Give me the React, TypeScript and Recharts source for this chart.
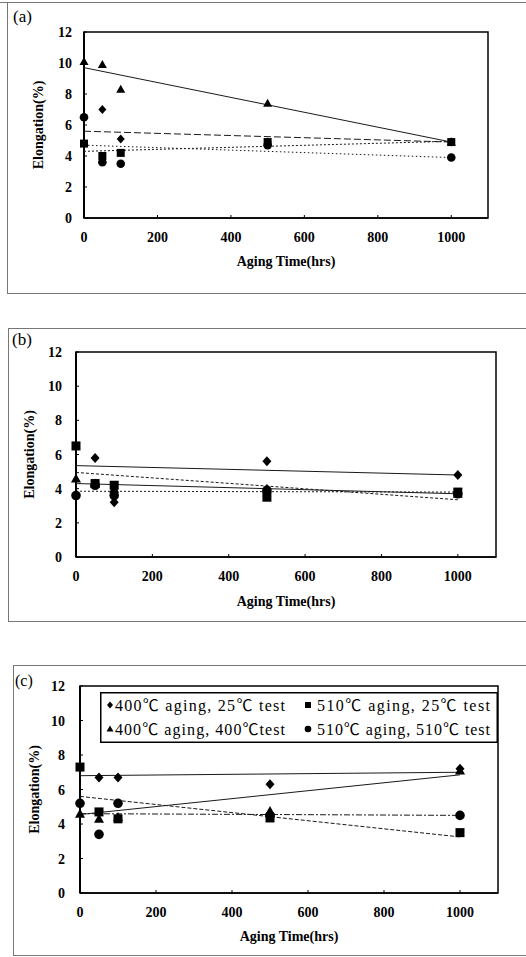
import React from 'react';
import { ScatterChart, Scatter, XAxis, YAxis, ReferenceArea, Legend, Label } from 'recharts';

const times = [0, 50, 100, 500, 1000];
const trendEnds = [0, 1000];
const xTicks = [0, 200, 400, 600, 800, 1000];
const yTicks = [0, 2, 4, 6, 8, 10, 12];

const seriesNames = ['400℃ aging, 25℃ test', '510℃ aging,  25℃ test', '400℃ aging, 400℃test', '510℃ aging, 510℃ test'];
const panelLabels = ['(a)', '(b)', '(c)'];
const xTitle = 'Aging Time(hrs)';
const yTitle = 'Elongation(%)';

// Panel (a)
const diamondA = [null, 7.0, 5.1, 4.9, 4.9];
const squareA = [4.8, 4.0, 4.2, 4.9, 4.9];
const triangleA = [10.1, 9.9, 8.3, 7.4, 4.9];
const circleA = [6.5, 3.6, 3.5, 4.7, 3.9];
const trendDiamondA = [5.6, 4.9];
const trendSquareA = [4.3, 4.95];
const trendTriangleA = [9.7, 4.9];
const trendCircleA = [4.7, 3.9];

// Panel (b)
const diamondB = [null, 5.8, 3.2, 5.6, 4.8];
const squareB = [6.5, 4.3, 4.2, 3.5, 3.8];
const triangleB = [4.6, 4.3, 4.0, 4.0, 3.7];
const circleB = [3.6, 4.2, 3.6, 3.9, 3.7];
const trendDiamondB = [5.35, 4.8];
const trendSquareB = [4.95, 3.35];
const trendTriangleB = [4.3, 3.7];
const trendCircleB = [3.85, 3.8];

// Panel (c)
const diamondC = [null, 6.7, 6.7, 6.3, 7.2];
const squareC = [7.3, 4.7, 4.3, 4.35, 3.5];
const triangleC = [4.6, 4.3, 4.4, 4.75, 7.1];
const circleC = [5.2, 3.4, 5.2, 4.5, 4.5];
const trendDiamondC = [6.8, 7.0];
const trendSquareC = [5.6, 3.25];
const trendTriangleC = [4.55, 6.85];
const trendCircleC = [4.6, 4.5];

const SERIF = "'Liberation Serif', 'Noto Sans CJK SC', serif";

type Pt = { x: number; y: number };
const pts = (vals: (number | null)[]): Pt[] =>
  times.map((t, i) => ({ x: t, y: vals[i] as number })).filter((p) => p.y !== null && p.y !== undefined);
const trendPts = (vals: number[]): Pt[] => trendEnds.map((t, i) => ({ x: t, y: vals[i] }));

const mark = (kind: string, s: number) => (props: any) => {
  const { cx, cy } = props;
  if (cx == null || cy == null) return <g />;
  const h = s / 2;
  if (kind === 'diamond') {
    return <path d={`M${cx},${cy - h - 0.5} L${cx + h},${cy} L${cx},${cy + h + 0.5} L${cx - h},${cy} Z`} fill="#000" />;
  }
  if (kind === 'square') {
    return <rect x={cx - h} y={cy - h} width={s} height={s} fill="#000" />;
  }
  if (kind === 'triangle') {
    return <path d={`M${cx},${cy - h - 0.5} L${cx + h + 0.5},${cy + h - 0.5} L${cx - h - 0.5},${cy + h - 0.5} Z`} fill="#000" />;
  }
  return <circle cx={cx} cy={cy} r={h + 0.3} fill="#000" />;
};

const noMark = () => <g />;

const makeXTick = (m: number) => (props: any) => {
  const { x, y, payload } = props;
  return (
    <g>
      <line x1={x} x2={x} y1={y - m} y2={y - m - 3} stroke="#000" strokeWidth={1} />
      <text x={x} y={y} dy="0.71em" textAnchor="middle" fontFamily={SERIF} fontWeight="bold" fontSize={14} fill="#000">
        {payload.value}
      </text>
    </g>
  );
};

const makeYTick = (m: number) => (props: any) => {
  const { x, y, payload } = props;
  return (
    <g>
      <line x1={x + m} x2={x + m + 3} y1={y} y2={y} stroke="#000" strokeWidth={1} />
      <text x={x} y={y} dy="0.36em" textAnchor="end" fontFamily={SERIF} fontWeight="bold" fontSize={14} fill="#000">
        {payload.value}
      </text>
    </g>
  );
};

const legendItems = [
  { kind: 'diamond', name: seriesNames[0], mx: 10, tx: 15, tw: 170, row: 0 },
  { kind: 'square', name: seriesNames[1], mx: 208, tx: 217, tw: 173, row: 0 },
  { kind: 'triangle', name: seriesNames[2], mx: 10, tx: 15, tw: 170, row: 1 },
  { kind: 'circle', name: seriesNames[3], mx: 208, tx: 217, tw: 173, row: 1 },
];

const LegendBox = () => (
  <svg width={398} height={51} style={{ display: 'block' }}>
    <rect x={0.75} y={0.75} width={396.5} height={49.5} fill="#fff" stroke="#000" strokeWidth={1.5} />
    {legendItems.map((it, i) => {
      const cy = it.row === 0 ? 13 : 37;
      const M = mark(it.kind, 6);
      return (
        <g key={i}>
          {M({ cx: it.mx, cy })}
          <text x={it.tx} y={cy} dy="0.36em" fontFamily={SERIF} fontSize={16} fill="#000" textLength={it.tw} lengthAdjust="spacing">
            {it.name}
          </text>
        </g>
      );
    })}
  </svg>
);

type PanelCfg = {
  top: number;
  height: number;
  plotTop: number;
  plotBottom: number;
  plotLeft: number;
  plotRight: number;
  yTickMargin: number;
  yLabelX: number;
  xLabelBaseline: number;
  size: number;
  diamond: (number | null)[];
  square: (number | null)[];
  triangle: (number | null)[];
  circle: (number | null)[];
  tDiamond: number[];
  tSquare: number[];
  tTriangle: number[];
  tCircle: number[];
  dash: { diamond: string; square: string; triangle: string; circle: string };
  legend?: boolean;
};

const XH = 50;
const ML = 10;

function Panel(c: PanelCfg) {
  const W = 526;
  const margin = {
    top: c.plotTop - c.top,
    bottom: c.top + c.height - c.plotBottom - XH,
    left: ML,
    right: W - c.plotRight,
  };
  const yw = c.plotLeft - ML;
  const lineStyle = (d: string) => ({ stroke: '#1a1a1a', strokeWidth: 1, strokeDasharray: d });
  return (
    <div style={{ position: 'absolute', left: 0, top: c.top, width: W, height: c.height }}>
      <ScatterChart width={W} height={c.height} margin={margin}>
        <XAxis
          type="number"
          dataKey="x"
          domain={[0, 1100]}
          ticks={xTicks}
          height={XH}
          tickSize={0}
          tickMargin={14}
          tickLine={false}
          axisLine={{ stroke: '#000', strokeWidth: 1.5 }}
          tick={makeXTick(14)}
          interval={0}
        >
          <Label
            value={xTitle}
            position="insideBottom"
            offset={XH - (c.xLabelBaseline - c.plotBottom)}
            style={{ fontFamily: SERIF, fontWeight: 'bold', fontSize: 14, fill: '#000' }}
          />
        </XAxis>
        <YAxis
          type="number"
          dataKey="y"
          domain={[0, 12]}
          ticks={yTicks}
          width={yw}
          tickSize={0}
          tickMargin={c.yTickMargin}
          tickLine={false}
          axisLine={{ stroke: '#000', strokeWidth: 2 }}
          tick={makeYTick(c.yTickMargin)}
          interval={0}
        >
          <Label
            value={yTitle}
            position="insideLeft"
            angle={-90}
            offset={c.yLabelX - ML}
            style={{ fontFamily: SERIF, fontWeight: 'bold', fontSize: 14, fill: '#000', textAnchor: 'middle' }}
          />
        </YAxis>
        <ReferenceArea x1={0} x2={1100} y1={0} y2={12} fill="none" stroke="#000" strokeWidth={1.5} />
        <Scatter data={trendPts(c.tDiamond)} fill="#1a1a1a" line={lineStyle(c.dash.diamond)} shape={noMark} legendType="none" isAnimationActive={false} />
        <Scatter data={trendPts(c.tSquare)} fill="#1a1a1a" line={lineStyle(c.dash.square)} shape={noMark} legendType="none" isAnimationActive={false} />
        <Scatter data={trendPts(c.tTriangle)} fill="#1a1a1a" line={lineStyle(c.dash.triangle)} shape={noMark} legendType="none" isAnimationActive={false} />
        <Scatter data={trendPts(c.tCircle)} fill="#1a1a1a" line={lineStyle(c.dash.circle)} shape={noMark} legendType="none" isAnimationActive={false} />
        <Scatter name={seriesNames[0]} data={pts(c.diamond)} fill="#000" shape={mark('diamond', c.size)} isAnimationActive={false} />
        <Scatter name={seriesNames[2]} data={pts(c.triangle)} fill="#000" shape={mark('triangle', c.size)} isAnimationActive={false} />
        <Scatter name={seriesNames[3]} data={pts(c.circle)} fill="#000" shape={mark('circle', c.size)} isAnimationActive={false} />
        <Scatter name={seriesNames[1]} data={pts(c.square)} fill="#000" shape={mark('square', c.size)} isAnimationActive={false} />
        {c.legend ? (
          <Legend
            layout="horizontal"
            verticalAlign="middle"
            align="center"
            content={() => <LegendBox />}
            wrapperStyle={{ left: 100, top: 692 - c.top, width: 398, height: 51 }}
          />
        ) : null}
      </ScatterChart>
    </div>
  );
}

const frameColor = '#777';
const hLine = (left: number, top: number, width: number) => (
  <div style={{ position: 'absolute', left, top, width, height: 0, borderTop: `1px solid ${frameColor}` }} />
);
const vLine = (left: number, top: number, height: number) => (
  <div style={{ position: 'absolute', left, top, width: 0, height, borderLeft: `1px solid ${frameColor}` }} />
);
const panelLabel = (text: string, left: number, top: number, size: number) => (
  <div style={{ position: 'absolute', left, top, fontFamily: SERIF, fontSize: size, lineHeight: `${size + 2}px`, color: '#000' }}>{text}</div>
);

export default function App() {
  return (
    <div style={{ position: 'absolute', left: 0, top: 0, width: 526, height: 957, background: '#fff', overflow: 'hidden' }}>
      {hLine(0, 2, 526)}
      {vLine(7, 2, 291)}
      {hLine(7, 293, 519)}
      {hLine(8, 328, 518)}
      {vLine(8, 328, 293)}
      {hLine(8, 621, 518)}
      {hLine(13, 665, 513)}
      {vLine(13, 665, 290)}
      {hLine(13, 955, 513)}

      <Panel
        top={0}
        height={300}
        plotTop={32}
        plotBottom={218}
        plotLeft={84}
        plotRight={488}
        yTickMargin={12}
        yLabelX={38}
        xLabelBaseline={266}
        size={8}
        diamond={diamondA}
        square={squareA}
        triangle={triangleA}
        circle={circleA}
        tDiamond={trendDiamondA}
        tSquare={trendSquareA}
        tTriangle={trendTriangleA}
        tCircle={trendCircleA}
        dash={{ diamond: '7 3', square: '2 2', triangle: '', circle: '1.5 2.5' }}
      />
      <Panel
        top={300}
        height={320}
        plotTop={352}
        plotBottom={557}
        plotLeft={76}
        plotRight={496}
        yTickMargin={14}
        yLabelX={29}
        xLabelBaseline={606}
        size={9}
        diamond={diamondB}
        square={squareB}
        triangle={triangleB}
        circle={circleB}
        tDiamond={trendDiamondB}
        tSquare={trendSquareB}
        tTriangle={trendTriangleB}
        tCircle={trendCircleB}
        dash={{ diamond: '', square: '3 2', triangle: '', circle: '2 2' }}
      />
      <Panel
        top={620}
        height={337}
        plotTop={686}
        plotBottom={893}
        plotLeft={80}
        plotRight={498}
        yTickMargin={15}
        yLabelX={34}
        xLabelBaseline={941}
        size={9}
        diamond={diamondC}
        square={squareC}
        triangle={triangleC}
        circle={circleC}
        tDiamond={trendDiamondC}
        tSquare={trendSquareC}
        tTriangle={trendTriangleC}
        tCircle={trendCircleC}
        dash={{ diamond: '', square: '4 2', triangle: '', circle: '6 2 2 2' }}
        legend
      />

      {panelLabel(panelLabels[0], 13, 7, 17)}
      {panelLabel(panelLabels[1], 12, 330, 17)}
      {panelLabel(panelLabels[2], 15, 672, 16)}
    </div>
  );
}
